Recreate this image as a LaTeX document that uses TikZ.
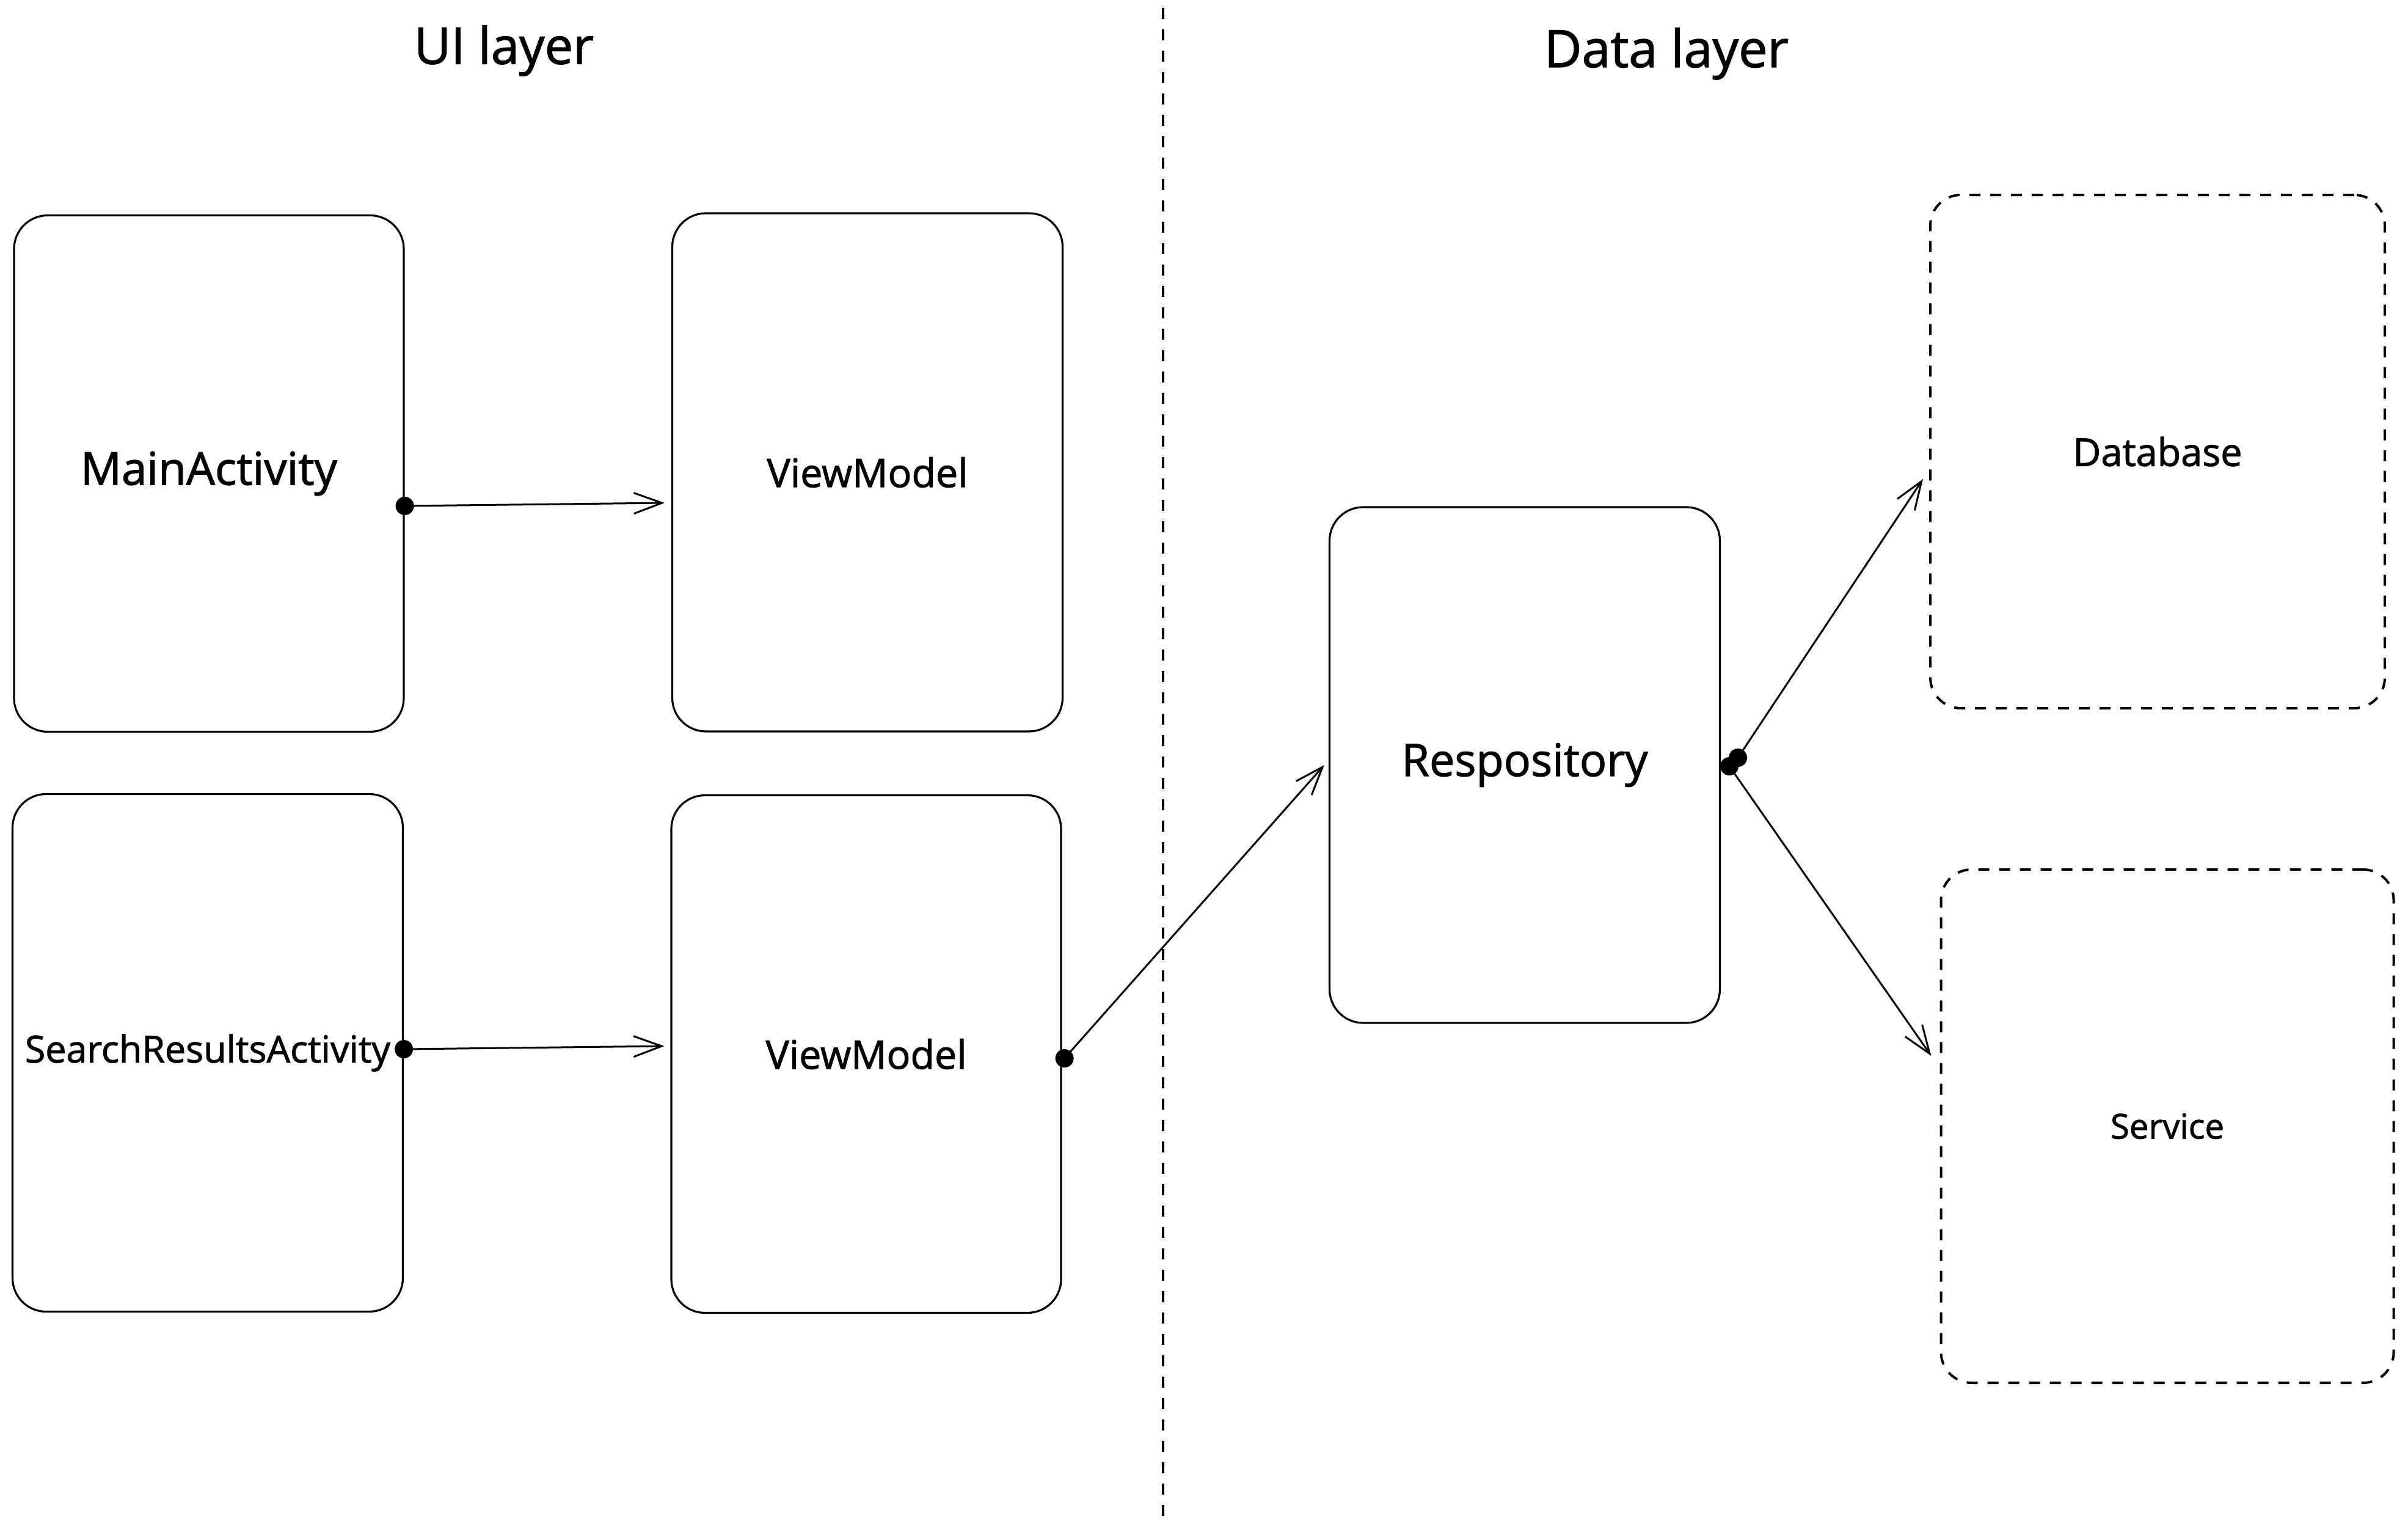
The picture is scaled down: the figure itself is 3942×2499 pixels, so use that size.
\documentclass[tikz,border=0pt]{standalone}
\usepackage{fontspec}
\setmainfont{Open Sans}[FakeBold=1.5]
\usetikzlibrary{arrows.meta,calc}
\newcommand{\fitw}[2]{\resizebox{#1pt}{!}{#2}}
\begin{document}
\begin{tikzpicture}[x=1pt,y=-1pt,
  box/.style={draw, line width=3.2pt, rounded corners=55pt, inner sep=0pt},
  dbox/.style={draw, line width=4pt, rounded corners=50pt, dash pattern=on 18pt off 16pt, inner sep=0pt},
  conn/.style={line width=3pt, -{Straight Barb[length=46pt,width=34pt,line width=3pt]}},
  dotfill/.style={fill=black},
  layer/.style={inner sep=0pt}]
\path[fill=white, use as bounding box] (0,0) rectangle (3942,2499);

% layer titles
\node[layer] (uit) at (825,83) {\fitw{294}{UI layer}};
\node[layer] (dlt) at (2728,88) {\fitw{400}{Data layer}};

% separator
\coordinate (septop) at (1904,13);
\coordinate (sepbot) at (1904,2490);
\draw[line width=4pt, dash pattern=on 18pt off 17pt] (septop) -- (sepbot);

% boxes
\node[box, minimum width=638pt, minimum height=845pt] (ma) at (342,775) {\fitw{420}{MainActivity}};
\node[box, minimum width=639pt, minimum height=848pt] (vm1) at (1420,773) {\fitw{329}{ViewModel}};
\node[box, minimum width=639pt, minimum height=847pt] (sra) at (340,1723) {\fitw{598}{SearchResultsActivity}};
\node[box, minimum width=638pt, minimum height=847pt] (vm2) at (1418,1725) {\fitw{329}{ViewModel}};
\node[box, minimum width=639pt, minimum height=844pt] (repo) at (2496,1252) {\fitw{403}{Respository}};
\node[dbox, minimum width=744pt, minimum height=840pt] (db) at (3532,739) {\fitw{277}{Database}};
\node[dbox, minimum width=741pt, minimum height=840pt] (svc) at (3548,1843) {\fitw{186}{Service}};

% connector start points
\coordinate (s1) at ([yshift=-53pt]ma.east);
\coordinate (s2) at ([yshift=6pt]sra.east);
\coordinate (s3) at ([xshift=4pt,yshift=-7pt]vm2.east);
\coordinate (s4) at ([xshift=28pt,yshift=12pt]repo.east);
\coordinate (s5) at ([xshift=14pt,yshift=-2pt]repo.east);

% connectors
\draw[conn] (s1) -- ([xshift=-11pt,yshift=-50pt]vm1.west);
\draw[conn] (s2) -- ([xshift=-10pt,yshift=13pt]vm2.west);
\draw[conn] (s3) -- ([xshift=-7pt]repo.west);
\draw[conn] (s4) -- ([xshift=-10pt,yshift=-45pt]db.west);
\draw[conn] (s5) -- ([xshift=-14pt,yshift=115pt]svc.west);

% dots
\fill[dotfill] (s1) circle[radius=15pt];
\fill[dotfill] (s2) circle[radius=15pt];
\fill[dotfill] (s3) circle[radius=15pt];
\fill[dotfill] (s4) circle[radius=15pt];
\fill[dotfill] (s5) circle[radius=15pt];
\end{tikzpicture}
\end{document}
